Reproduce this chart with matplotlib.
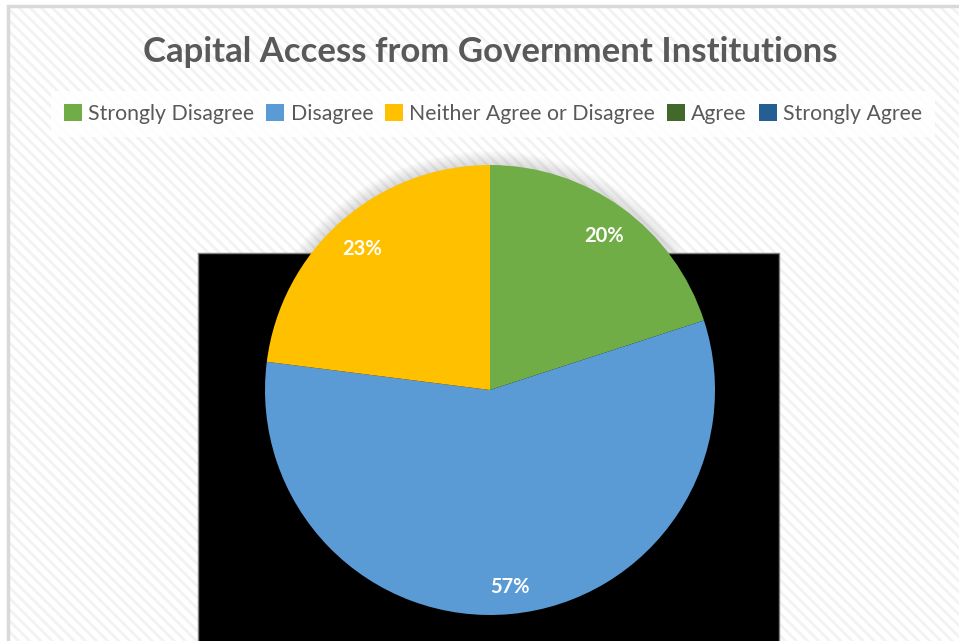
import matplotlib.pyplot as plt
from matplotlib.patches import Rectangle, Circle, Patch

# survey responses
categories = ['Strongly Disagree', 'Disagree', 'Neither Agree or Disagree', 'Agree', 'Strongly Agree']
shares = [20, 57, 23, 0, 0]
colors = ['#70AD47', '#5B9BD5', '#FFC000', '#43682B', '#255E91']
title = 'Capital Access from Government Institutions'

plt.rcParams['font.family'] = ['Lato', 'DejaVu Sans']
plt.rcParams['hatch.linewidth'] = 2.0

W, H = 959, 641
fig = plt.figure(figsize=(W / 100, H / 100), dpi=100)
ax = fig.add_axes([0, 0, 1, 1])
ax.set_xlim(0, W)
ax.set_ylim(0, H)
ax.axis('off')

# striped chart area with thin grey border
ax.add_patch(Rectangle((0, 0), W, H, facecolor='white', edgecolor='none', zorder=0))
ax.add_patch(Rectangle((8, -5), W, H - 1, facecolor='white', edgecolor='#F2F2F2',
                       hatch='\\\\\\', linewidth=0, zorder=0.1))
ax.add_patch(Rectangle((8, -5), W, H - 1, facecolor='none', edgecolor='#D9D9D9',
                       linewidth=2.5, zorder=0.2))

cx, cy, r = 490, H - 390, 225

# soft shadow around the pie (hidden where the black block sits)
for i in range(12):
    ax.add_patch(Circle((cx, cy), r + 14 - i * 1.2, facecolor='#808080',
                        edgecolor='none', alpha=0.025, zorder=0.5))

# black block behind the pie
ax.add_patch(Rectangle((198, -5), 581, H - 253 + 5, facecolor='black',
                       edgecolor='#7F7F7F', linewidth=1, zorder=1))

vals = [v for v in shares if v > 0]
cols = [c for v, c in zip(shares, colors) if v > 0]
wedges, _ = ax.pie(vals, colors=cols, startangle=90, counterclock=False,
                   center=(cx, cy), radius=r, frame=True,
                   wedgeprops=dict(linewidth=0, zorder=2))
for w in wedges:
    w.set_zorder(2)
ax.set_xlim(0, W)
ax.set_ylim(0, H)
ax.set_aspect('auto')

# percentage labels
label_pos = [(604, 236), (510, 587), (362, 249)]
for v, (x, y) in zip(vals, label_pos):
    ax.text(x, H - y, f'{v}%', color='white', fontsize=14.5, fontweight='bold',
            ha='center', va='center', zorder=3)

fig.text(490 / W, 1 - 52 / H, title, ha='center', va='center', fontsize=25,
         fontweight='bold', color='#595959')

handles = [Patch(facecolor=c, edgecolor='none', label=n) for n, c in zip(categories, colors)]
leg = fig.legend(handles=handles, loc='center', bbox_to_anchor=(493 / W, 1 - 114 / H),
                 ncol=5, frameon=True, fontsize=15.3, handlelength=0.85, handleheight=0.85,
                 handletextpad=0.3, columnspacing=0.55, borderpad=0.6, labelcolor='#595959')
leg.get_frame().set_facecolor('white')
leg.get_frame().set_alpha(0.85)
leg.get_frame().set_edgecolor('none')
leg.get_frame().set_boxstyle('square', pad=0)

fig.savefig('out.png', dpi=100)
